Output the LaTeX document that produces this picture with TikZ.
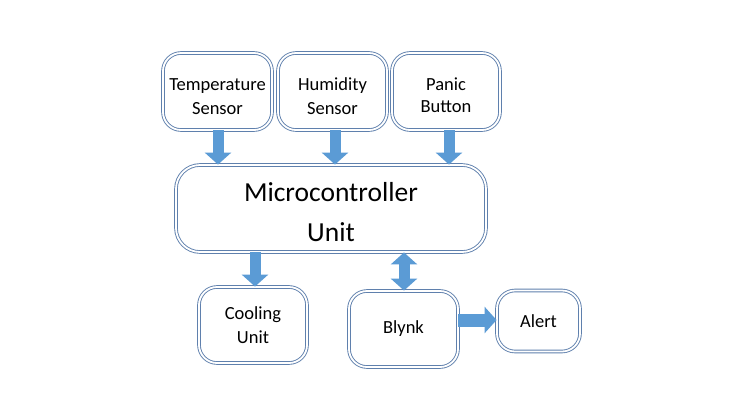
\documentclass[tikz,border=0pt]{standalone}
\usepackage{fontspec}
\setmainfont{Carlito}
\usetikzlibrary{arrows.meta}
\definecolor{boxline}{HTML}{5F80AD}
\definecolor{arrowfill}{HTML}{5B9BD5}
\newcommand{\lowr}[1]{\rule{0pt}{#1}}
\tikzset{
  blk/.style={draw=boxline, double=white, double distance=1.8pt, line width=0.9pt,
    rounded corners=18pt, fill=white, align=center, font=\fontsize{18.5}{24}\selectfont, inner sep=0pt},
  fat/.style={line width=11pt, draw=arrowfill},
  tipA/.style={-{Triangle[width=26pt,length=12pt]}},
  tipB/.style={{Triangle[width=26pt,length=12pt]}-{Triangle[width=26pt,length=12pt]}}
}
\begin{document}
\begin{tikzpicture}[x=1pt,y=-1pt]
\useasboundingbox[fill=white] (0,0) rectangle (740,416);
\node[blk, minimum width=109pt, minimum height=77pt] (temp) at (217.5,91.5) {\lowr{22pt}Temperature\\Sensor};
\node[blk, minimum width=109pt, minimum height=77pt] (hum) at (332.5,91.5) {\lowr{22pt}Humidity\\Sensor};
\node[blk, minimum width=108pt, minimum height=77pt, font=\fontsize{18.5}{21.5}\selectfont] (panic) at (446,91.5) {\lowr{20pt}Panic\\Button};
\node[blk, minimum width=310pt, minimum height=87pt, rounded corners=24pt, font=\fontsize{27.5}{40}\selectfont] (mcu) at (331,208.5) {\lowr{26pt}Microcontroller\\Unit};
\node[blk, minimum width=108pt, minimum height=76pt] (cool) at (253,325) {Cooling\\Unit};
\node[blk, minimum width=109pt, minimum height=76pt] (blynk) at (403.5,329) {Blynk};
\node[blk, minimum width=83pt, minimum height=61pt] (alert) at (538.5,321) {Alert};
\draw[fat,tipA] (temp.south -| 218,0) -- (mcu.north -| 218,0);
\draw[fat,tipA] (hum.south -| 335,0) -- (mcu.north -| 335,0);
\draw[fat,tipA] (panic.south -| 449,0) -- (mcu.north -| 449,0);
\draw[fat,tipA] (mcu.south -| 255,0) -- (cool.north -| 255,0);
\draw[fat,tipB] (mcu.south -| 404,0) -- (blynk.north -| 404,0);
\draw[fat,line width=13pt,tipA] (blynk.east |- 0,320) -- (alert.west |- 0,320);
\end{tikzpicture}
\end{document}
